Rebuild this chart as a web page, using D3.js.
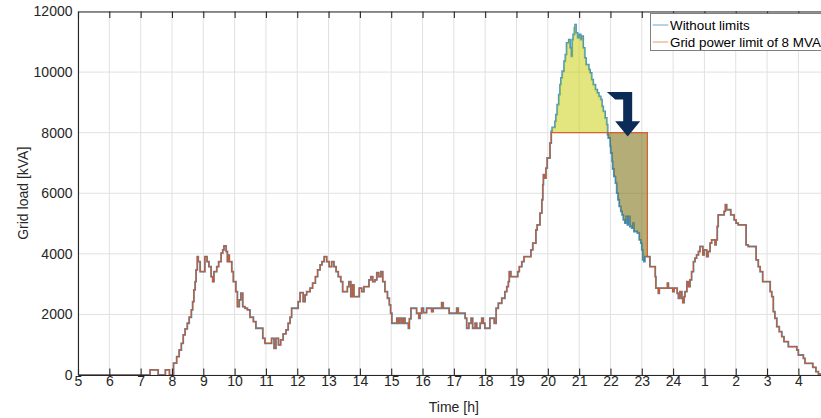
<!DOCTYPE html>
<html><head><meta charset="utf-8">
<script src="https://cdn.jsdelivr.net/npm/d3@7"></script>
<style>
body{margin:0;background:#fff;}
svg{display:block;font-family:"Liberation Sans",Arial,Helvetica,sans-serif;}
</style>
</head><body>
<svg id="chart" width="821" height="418"></svg>
<script>
// ---- data (time in hours since 0:00 of day 1; 25 = 1:00 next day) ----
const hours = [
 5.00,7.30,7.56,7.79,7.92,8.05,8.15,8.23,8.30,8.36,8.42,8.49,8.55,8.62,8.66,8.70,8.74,8.77,8.81,8.84,
 8.90,9.05,9.12,9.18,9.25,9.30,9.34,9.43,9.49,9.57,9.62,9.66,9.73,9.77,9.80,9.83,9.91,9.96,10.04,10.09,
 10.15,10.20,10.26,10.33,10.41,10.49,10.60,10.68,10.90,10.97,11.18,11.26,11.32,11.40,11.47,11.55,11.64,11.71,11.77,11.82,
 12.03,12.09,12.19,12.25,12.30,12.41,12.49,12.58,12.65,12.73,12.79,12.86,12.94,13.02,13.10,13.17,13.24,13.31,13.39,13.45,
 13.60,13.65,13.71,13.76,13.81,13.98,14.06,14.13,14.29,14.35,14.41,14.48,14.54,14.60,14.67,14.73,14.80,14.88,14.94,14.98,
 15.02,15.18,15.23,15.28,15.34,15.39,15.44,15.55,15.58,15.63,15.81,15.88,15.92,15.97,16.03,16.13,16.29,16.34,16.61,16.66,
 16.85,17.09,17.14,17.36,17.41,17.48,17.55,17.60,17.68,17.73,17.84,17.89,17.94,17.99,18.15,18.29,18.35,18.42,18.53,18.63,
 18.69,18.74,18.77,18.82,19.04,19.09,19.17,19.24,19.46,19.52,19.62,19.66,19.75,19.81,19.84,19.86,19.90,19.94,19.98,20.07,
 20.11,20.14,20.23,20.26,20.30,20.35,20.39,20.42,20.46,20.52,20.56,20.60,20.67,20.71,20.75,20.78,20.81,20.85,20.87,20.90,
 20.95,21.01,21.05,21.09,21.13,21.18,21.22,21.31,21.35,21.40,21.45,21.52,21.58,21.63,21.69,21.73,21.77,21.83,21.88,21.91,
 21.93,21.99,22.01,22.05,22.07,22.11,22.16,22.20,22.24,22.28,22.33,22.37,22.41,22.46,22.50,22.54,22.58,22.62,22.68,22.72,
 22.75,22.86,22.92,22.97,23.00,23.03,23.07,23.10,23.26,23.43,23.45,23.53,23.56,23.82,23.85,23.99,24.03,24.13,24.17,24.22,
 24.28,24.31,24.35,24.38,24.44,24.49,24.54,24.59,24.65,24.70,24.75,24.81,24.86,24.95,24.99,25.07,25.12,25.18,25.23,25.34,
 25.37,25.41,25.44,25.63,25.67,25.71,25.84,25.95,26.01,26.08,26.33,26.40,26.65,26.72,26.78,26.86,27.10,27.15,27.20,27.25,
 27.31,27.39,27.47,27.54,27.68,27.95,28.00,28.16,28.21,28.46,28.56,28.64,28.69,29.00
];
const withoutLimits = [
 0,170,0,170,0,390,605,826,1047,1322,1520,1708,1907,2149,2424,2810,3085,3471,3911,3746,
 3415,3911,3746,3580,3250,3085,3415,3580,3746,4022,4132,4264,4077,3746,3960,3746,3415,3085,2754,2258,
 2478,2699,2258,2203,2149,1907,1763,1543,1212,1047,1212,882,1212,992,1157,1355,1488,1708,1907,2203,
 2424,2721,2424,2643,2754,2865,3030,3250,3471,3636,3746,3911,3746,3580,3746,3580,3415,3250,3085,2754,
 2920,3085,2589,2975,2589,2865,2754,2920,3140,3250,3085,3140,3382,3250,3415,3085,2754,2534,2314,2039,
 1708,1874,1708,1874,1708,1874,1708,1543,1857,2203,2039,1874,2039,2203,2060,2203,2094,2203,2390,2203,
 2039,2203,2039,1874,1543,1708,1874,1543,1708,1543,1708,1874,1708,1543,1874,1708,2203,2369,2534,2754,
 2920,3085,3415,3250,3415,3580,3746,3911,4132,4353,4793,4959,5345,5785,6281,6612,6502,6832,7163,7659,
 8050,8176,8375,8595,8926,9256,9587,9807,10027,10358,10579,10965,11074,10799,10523,11074,11240,11460,11570,11295,
 11130,11240,11074,11185,10799,10468,10248,10083,9972,9752,9587,9421,9311,9201,9091,8870,8705,8485,8264,7930,
 7824,7548,7328,7052,6800,6556,6336,6006,5785,5565,5400,5289,5124,5014,5234,4959,5234,4903,4848,5014,
 4738,4683,4463,4353,4132,3802,3746,3911,3580,3250,2865,2699,2865,3030,2865,2754,2865,2699,2534,2754,
 2534,2390,2589,2754,3085,2920,3140,3415,3746,3857,3967,4077,4242,3967,4132,3911,4077,4353,4463,4298,
 4463,4903,5289,5400,5620,5455,5289,5124,5014,4959,4298,4242,3802,3580,3415,3085,2754,2589,2093,1874,
 1598,1433,1267,1102,937,826,661,551,386,254,110,33,0,0
];
const gridLimitKVA = 8000;      // 8 MVA limit
const shiftEndHour = 23.18;     // end of the shifted (deferred) load
const xTickValues = [5,6,7,8,9,10,11,12,13,14,15,16,17,18,19,20,21,22,23,24,25,26,27,28];
const xTickLabels = ["5","6","7","8","9","10","11","12","13","14","15","16","17","18","19","20","21","22","23","24","1","2","3","4"];
const yTickValues = [0,2000,4000,6000,8000,10000,12000];
const seriesNames = ["Without limits","Grid power limit of 8 MVA"];
const xLabel = "Time [h]";
const yLabel = "Grid load [kVA]";
const arrowTip = {h: 22.55, kva: 7870};

// ---- build ----
(function(){
const svg = d3.select("#chart");
const pL = 78, pT = 11.5, pB = 375, pR = 829.7;
const x = d3.scaleLinear().domain([5, 29]).range([pL, pR]);
const y = d3.scaleLinear().domain([0, 12000]).range([pB, pT]);

const n = Math.min(hours.length, withoutLimits.length);
const blue = d3.range(n).map(i=>({h: hours[i], v: withoutLimits[i]}));
const valueAt = h => { let v = 0; for (const d of blue) { if (d.h <= h) v = d.v; else break; } return v; };
const firstExceed = blue.find(d => d.v > gridLimitKVA).h;
const crossDown = blue.find(d => d.h > firstExceed && d.v < gridLimitKVA).h;
const limited = blue
  .map(d => (d.h >= firstExceed && d.h < shiftEndHour) ? {h:d.h, v:gridLimitKVA} : {h:d.h, v:d.v})
  .concat([{h: shiftEndHour, v: valueAt(shiftEndHour)}])
  .sort((a,b)=>a.h-b.h);
const yellowData = blue.filter(d => d.h >= firstExceed && d.h <= crossDown);
const oliveData = blue.filter(d => d.h >= crossDown && d.h < shiftEndHour)
  .concat([{h: shiftEndHour, v: valueAt(shiftEndHour)}]);

svg.append("defs").append("clipPath").attr("id","plotclip")
  .append("rect").attr("x",pL).attr("y",pT).attr("width",pR-pL).attr("height",pB-pT);

// grid
const grid = svg.append("g");
grid.selectAll("line.vx").data(xTickValues).join("line").attr("class","vx")
  .attr("x1",d=>x(d)).attr("x2",d=>x(d)).attr("y1",pT).attr("y2",pB)
  .attr("stroke","#e1e1e1").attr("stroke-width",1);
grid.selectAll("line.hy").data(yTickValues).join("line").attr("class","hy")
  .attr("x1",pL).attr("x2",pR).attr("y1",d=>y(d)).attr("y2",d=>y(d))
  .attr("stroke","#e1e1e1").attr("stroke-width",1);

const plot = svg.append("g").attr("clip-path","url(#plotclip)");
const line = d3.line().x(d=>x(d.h)).y(d=>y(d.v)).curve(d3.curveStepAfter);
const area = d3.area().x(d=>x(d.h)).y0(d=>y(d.v)).y1(()=>y(gridLimitKVA)).curve(d3.curveStepAfter);

plot.append("path").datum(blue).attr("d",line).attr("fill","none")
  .attr("stroke","#0072BD").attr("stroke-width",1.8).attr("stroke-opacity",0.75);
plot.append("path").datum(yellowData).attr("d",area)
  .attr("fill","rgb(200,205,0)").attr("fill-opacity",0.5);
plot.append("path").datum(oliveData).attr("d",area)
  .attr("fill","rgb(120,105,10)").attr("fill-opacity",0.55);
plot.append("path").datum(limited).attr("d",line).attr("fill","none")
  .attr("stroke","#D95319").attr("stroke-width",1.2).attr("stroke-opacity",0.9);

// arrow
const ax = x(arrowTip.h), ay = y(arrowTip.kva);
const arrowPts = [[0,0],[12.5,-15.3],[4.5,-15.3],[4.5,-44.7],[-20.8,-44.7],[-12.5,-37],[-4.5,-37],[-4.5,-15.3],[-12.5,-15.3]];
svg.append("polygon")
  .attr("points", arrowPts.map(p=>[ax+p[0], ay+p[1]].join(",")).join(" "))
  .attr("fill","#0b2c57");

// axes
const textColor = "#262626";
const xAxis = svg.append("g").attr("transform",`translate(0,${pB})`)
  .call(d3.axisBottom(x).tickValues(xTickValues).tickFormat((d,i)=>xTickLabels[i]).tickSize(-6.5).tickSizeOuter(0).tickPadding(1));
const xAxisTop = svg.append("g").attr("transform",`translate(0,${pT})`)
  .call(d3.axisTop(x).tickValues(xTickValues).tickFormat("").tickSize(-6.5).tickSizeOuter(0));
const yAxis = svg.append("g").attr("transform",`translate(${pL},0)`)
  .call(d3.axisLeft(y).tickValues(yTickValues).tickFormat(d3.format("d")).tickSize(0).tickPadding(5.5));
[xAxis,xAxisTop,yAxis].forEach(g=>{
  g.select(".domain").attr("stroke",textColor).attr("stroke-width",1.1);
  g.selectAll(".tick line").attr("stroke",textColor).attr("stroke-width",1.1);
  g.selectAll(".tick text").attr("fill",textColor).attr("font-size",14).attr("font-family","Liberation Sans, Arial, sans-serif");
});

svg.append("text").attr("x",(pL+pR)/2).attr("y",412)
  .attr("text-anchor","middle").attr("font-size",14).attr("fill",textColor).text(xLabel);
svg.append("text").attr("transform",`translate(28,${(pT+pB)/2}) rotate(-90)`)
  .attr("text-anchor","middle").attr("font-size",14).attr("fill",textColor).text(yLabel);

// legend
const lg = svg.append("g");
lg.append("rect").attr("x",650.5).attr("y",13.5).attr("width",200).attr("height",37)
  .attr("fill","#fff").attr("stroke","#808080").attr("stroke-width",1);
const legendColors = ["#0072BD","#D95319"];
seriesNames.forEach((name,i)=>{
  const yy = 25 + i*17;
  lg.append("line").attr("x1",652.7).attr("x2",668.3).attr("y1",yy).attr("y2",yy)
    .attr("stroke",legendColors[i]).attr("stroke-width",1).attr("stroke-opacity",0.6);
  lg.append("text").attr("x",670).attr("y",yy).attr("dy","0.35em")
    .attr("font-size",13.4).attr("fill","#000").text(name);
});
})();
</script>
</body></html>
